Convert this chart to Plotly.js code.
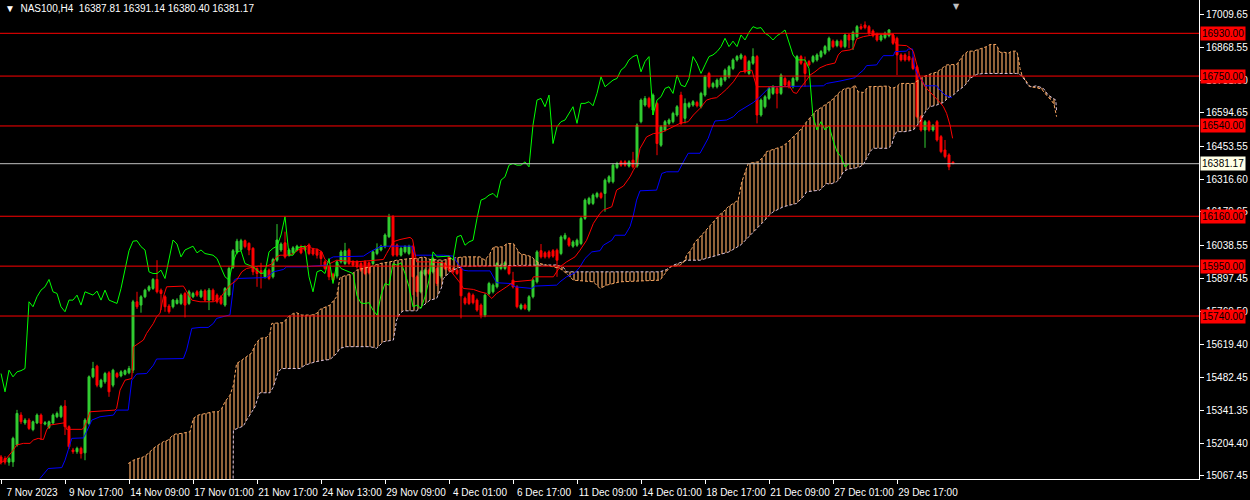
<!DOCTYPE html>
<html>
<head>
<meta charset="utf-8">
<script src="https://cdn.plot.ly/plotly-3.0.1.min.js"></script>
<style>
  html, body { margin: 0; padding: 0; background: #000; }
  #container { width: 1250px; height: 500px; }
</style>
</head>
<body>
<div id="container"></div>
<script>
// NAS100 H4 bars, index 0 = 7 Nov 2023 (one bar = 4 hours)
const openP = [
  15147,15140,15125,15126,15197,15323,15290,15302,15262,15290,
  15323,15285,15271,15290,15316,15316,15361,15274,15176,15169,
  15183,15164,15288,15484,15529,15442,15463,15501,15449,15498,
  15488,15495,15501,15512,15800,15786,15821,15849,15856,15894,
  15849,15821,15782,15779,15793,15793,15835,15793,15821,15842,
  15821,15846,15807,15849,15828,15821,15786,15828,15945,16008,
  16020,16057,16046,16025,15940,15931,15905,15933,15905,15975,
  16018,16048,15996,16006,16018,16032,16032,16039,16020,16018,
  16010,15968,15947,15916,15908,15968,15961,16018,15968,15968,
  15961,15968,15964,15961,16003,16018,16032,16074,16158,16039,
  15996,16010,16003,16032,15905,15842,15916,15933,15926,15940,
  15908,15961,15989,15940,15933,15940,15815,15835,15828,15807,
  15786,15744,15835,15842,15863,15940,15940,15947,15891,15863,
  15772,15786,15765,15821,15884,16015,16006,16010,16015,16017,
  16003,16066,16066,16034,16038,16045,16151,16214,16214,16242,
  16256,16256,16305,16305,16365,16389,16389,16371,16396,16371,
  16558,16628,16656,16607,16635,16459,16523,16551,16558,16586,
  16670,16572,16621,16628,16639,16621,16670,16761,16705,16705,
  16712,16733,16747,16782,16818,16825,16832,16761,16804,16832,
  16586,16621,16656,16677,16698,16677,16740,16726,16705,16733,
  16832,16804,16811,16811,16818,16832,16846,16860,16897,16878,
  16897,16874,16923,16902,16916,16958,16965,16958,16940,16926,
  16902,16912,16920,16923,16909,16839,16839,16832,16825,16789,
  16579,16523,16558,16523,16558,16495,16439,16418,16387.81
];
const highP = [
  15155,15150,15148,15232,15345,15335,15310,15310,15300,15330,
  15330,15298,15300,15330,15338,15365,15386,15280,15185,15190,
  15190,15310,15490,15547,15535,15476,15505,15508,15518,15505,
  15512,15515,15530,15808,15842,15828,15855,15870,15900,15975,
  15856,15828,15790,15812,15815,15835,15842,15850,15842,15849,
  15852,15853,15858,15856,15835,15828,15862,15948,16022,16065,
  16065,16062,16050,16030,15945,15964,15940,15940,15985,16127,
  16050,16095,16025,16034,16040,16040,16038,16046,16027,16025,
  16015,15975,15954,15922,15975,16018,16048,16025,15975,15975,
  15968,15975,15970,16015,16046,16040,16088,16170,16165,16045,
  16032,16038,16040,16040,15912,15933,15940,15940,15990,15947,
  15970,15968,15996,15947,15940,15947,15822,15842,15835,15814,
  15793,15835,15884,15877,15968,15961,15971,15954,15926,15870,
  15793,15793,15828,15898,16017,16043,16013,16017,16022,16024,
  16080,16090,16073,16059,16066,16158,16235,16242,16256,16263,
  16263,16319,16333,16382,16389,16396,16396,16396,16431,16551,
  16656,16666,16663,16677,16642,16544,16565,16572,16600,16628,
  16684,16656,16642,16649,16646,16684,16754,16768,16726,16740,
  16747,16782,16796,16825,16839,16846,16839,16818,16867,16839,
  16656,16670,16705,16712,16705,16761,16747,16733,16747,16839,
  16839,16832,16818,16839,16846,16860,16881,16916,16904,16904,
  16904,16930,16930,16941,16965,16970,16980,16965,16947,16933,
  16927,16937,16948,16930,16916,16846,16846,16855,16832,16796,
  16586,16565,16565,16548,16565,16502,16481,16425,16391.14
];
const lowP = [
  15115,15115,15110,15105,15190,15285,15282,15260,15255,15285,
  15218,15280,15265,15285,15310,15310,15239,15180,15160,15160,
  15140,15133,15280,15478,15440,15436,15455,15400,15440,15478,
  15482,15490,15495,15500,15770,15754,15815,15842,15850,15835,
  15765,15758,15750,15772,15788,15786,15734,15786,15815,15821,
  15815,15800,15765,15800,15793,15786,15779,15821,15938,16000,
  16012,16025,15996,15912,15863,15856,15898,15891,15898,15968,
  16010,15982,15990,16000,16012,16000,16012,15996,15994,15982,
  15954,15933,15891,15884,15898,15961,15954,15954,15947,15940,
  15926,15912,15915,15954,15996,16012,16025,16068,15990,15989,
  15990,16003,15996,15828,15821,15835,15908,15912,15919,15866,
  15898,15933,15926,15919,15912,15730,15786,15786,15789,15758,
  15730,15735,15828,15835,15856,15933,15933,15912,15856,15772,
  15765,15765,15758,15814,15877,15982,15982,15982,15985,15905,
  15996,16059,16031,16027,16031,16038,16144,16207,16207,16235,
  16232,16179,16298,16298,16358,16368,16368,16365,16361,16364,
  16551,16621,16614,16586,16417,16452,16516,16544,16551,16579,
  16544,16551,16614,16621,16618,16614,16663,16698,16698,16698,
  16705,16726,16740,16775,16811,16818,16761,16754,16797,16551,
  16579,16614,16649,16670,16614,16670,16705,16698,16698,16726,
  16797,16705,16790,16804,16811,16825,16839,16853,16867,16871,
  16867,16867,16867,16860,16909,16944,16947,16923,16913,16895,
  16895,16905,16913,16881,16754,16811,16811,16811,16775,16572,
  16516,16448,16516,16516,16474,16425,16404,16354,16380.40
];
const closeP = [
  15125,15125,15140,15225,15330,15295,15302,15267,15295,15323,
  15288,15291,15295,15323,15330,15358,15274,15190,15169,15183,
  15161,15302,15484,15519,15449,15470,15498,15421,15512,15484,
  15505,15510,15519,15800,15779,15821,15849,15863,15894,15842,
  15835,15779,15758,15807,15807,15828,15786,15842,15835,15828,
  15845,15807,15849,15807,15800,15793,15856,15940,16015,16055,
  16057,16032,16018,15926,15919,15919,15933,15898,15978,16060,
  16043,15989,16018,16027,16034,16006,16018,16003,16001,15996,
  15982,15940,15905,15891,15968,16010,16015,15961,15954,15947,
  15933,15919,15922,16010,16025,16034,16081,16158,15996,15996,
  16025,16032,16032,15905,15842,15926,15933,15919,15982,15877,
  15964,15940,15933,15926,15919,15825,15794,15793,15796,15765,
  15744,15828,15877,15870,15961,15954,15964,15919,15863,15779,
  15786,15772,15821,15891,16010,15989,15989,15989,15992,15975,
  16073,16080,16038,16052,16059,16151,16228,16235,16249,16256,
  16239,16312,16326,16375,16382,16375,16375,16389,16368,16544,
  16649,16656,16621,16670,16466,16537,16558,16565,16593,16621,
  16551,16635,16635,16642,16625,16677,16747,16705,16719,16733,
  16740,16775,16789,16818,16832,16839,16768,16811,16832,16586,
  16649,16663,16698,16705,16677,16754,16712,16705,16740,16832,
  16804,16761,16797,16832,16839,16853,16874,16909,16874,16897,
  16874,16923,16902,16934,16958,16951,16954,16930,16920,16902,
  16920,16930,16944,16888,16839,16818,16818,16818,16782,16579,
  16523,16558,16523,16541,16481,16432,16411,16368,16381.17
];

// Ichimoku lines (bar index, price)
const tenkanX = [-0.25,1,3.1,3.9,5.6,7.25,8.1,9.3,10.6,11.4,12.25,14.75,16,16.4,20.2,20.6,21.4,22.25,28.5,28.9,
  29.75,31,32.7,33.1,35.6,36.4,38.1,38.9,39.75,40.6,41.4,45.6,46.4,47.7,49.75,53.1,54.75,55.6,57.25,58.9,
  60.2,61.4,64.3,66.4,67.7,68.9,69.75,71.8,73.1,74.3,76,76.8,77.7,79.3,80.2,81,82.25,83.9,88.9,92.25,
  95.6,96.4,98.1,99.75,102.25,102.9,103.9,107.25,110.6,112.25,114.75,115.6,118.1,119.75,121.4,122.7,123.9,126.4,128.1,132.7,
  133.1,138.1,138.9,139.75,141.4,143.5,144.75,146.4,147.25,148.1,149.75,150.6,152.7,153.9,155.6,156.4,157.25,158.1,158.9,159.75,
  161.4,163.1,164.75,166.4,168.1,169.75,171.8,173.1,174.75,176.4,177.7,178.9,180.2,181.4,183.1,184.3,184.75,187.7,188.9,197.25,
  198.1,198.9,199.75,201.4,202.25,203.5,204.75,206.4,208.5,209.3,210.2,212.25,213.1,213.9,215.6,218.9,223.1,223.5,223.9,226.4,
  227.7,228.1,228.9,229.75,231,232.25,233.9,234.75,235.6,236.4,237.25,237.9];
const tenkanY = [15119,15133,15176,15197,15204,15204,15218,15225,15220,15260,15281,15288,15291,15263,15263,15267,15295,15337,15344,15351,
  15428,15470,15477,15610,15639,15667,15709,15737,15751,15821,15863,15866,15842,15807,15800,15800,15814,15835,15870,15891,
  15926,15940,15950,15950,15959,15989,15996,15996,16003,16018,16027,16039,16025,16020,16010,15978,15961,15975,15968,15973,
  15978,16003,16053,16062,16071,16062,15968,15968,15964,15933,15880,15856,15852,15842,15835,15814,15835,15863,15884,15891,
  15905,15905,15926,15947,15968,15989,16017,16059,16094,16130,16172,16186,16200,16270,16287,16305,16326,16354,16375,16445,
  16494,16508,16511,16523,16537,16551,16558,16586,16614,16649,16656,16659,16677,16695,16726,16754,16768,16775,16705,16705,
  16681,16677,16698,16733,16754,16768,16785,16797,16805,16839,16855,16860,16867,16906,16916,16926,16926,16895,16881,16878,
  16862,16853,16797,16747,16705,16684,16656,16639,16621,16593,16544,16488];

const kijunX = [9.75,11.8,15.2,16,17.7,20.6,21.4,22.7,24.75,28.1,28.9,31.8,32.7,33.9,36.4,38.1,38.9,45.6,46.4,47.7,
  49.75,51.8,53.1,53.9,57.25,57.7,58.3,58.9,61.4,64.75,66.4,68.1,70.6,71.4,76.4,77.7,81.4,82.25,83.1,90.6,
  92.25,94.75,96.4,102.7,103.5,110.6,113.1,113.9,115.6,116.8,122.25,123.1,123.9,127.25,128.5,132.7,133.5,138.9,139.75,141.4,
  143.5,144.75,146,147.7,149.75,150.6,152.7,153.5,156,157.25,158.1,158.9,159.75,163.9,165.2,166.4,169.3,170.6,171.8,174.75,
  175.6,176.8,177.7,178.5,181.4,183.1,184.3,186.4,188.1,189.75,191.4,192.25,205.6,206.4,209.75,212.25,213.5,214.3,215.6,216.4,
  218.9,219.75,220.6,223.1,223.5,226.4,226.8,227.9,228.1,228.5,229.3,230.2,231,233.9,234.75,236,237.7];
const kijunY = [15056,15098,15102,15133,15225,15227,15253,15302,15316,15323,15344,15344,15470,15496,15498,15533,15559,15561,15597,15688,
  15692,15692,15709,15730,15745,15800,15891,15898,15898,15901,15902,15926,15936,15947,15947,15950,15954,15982,15989,15992,
  16010,16032,16034,16034,15996,15996,15992,15968,15933,15930,15930,15905,15880,15877,15863,15856,15866,15870,15884,15905,
  15922,15947,15982,16010,16015,16038,16059,16080,16080,16116,16165,16228,16267,16270,16340,16347,16347,16389,16425,16425,
  16453,16488,16530,16561,16565,16579,16600,16621,16639,16663,16691,16705,16709,16719,16729,16737,16743,16757,16775,16794,
  16797,16818,16836,16836,16853,16855,16864,16864,16811,16782,16747,16733,16709,16709,16691,16670,16659];

const spanAX = [31.8,33.1,34.3,35.6,36.8,38.1,39.3,40.6,41.8,42.7,43.5,45.2,47.25,48.1,49.3,51.8,53.1,54.3,55.2,56,
  57.25,58.1,58.5,58.9,60.2,61.4,62.7,63.5,64.75,66.4,67.25,67.7,70.6,71.8,73.1,73.9,75.2,77.7,78.9,79.75,
  81.4,82.25,83.9,84.75,86.4,87.7,88.9,90.2,92.25,94.75,97.25,98.9,102.25,103.9,105.6,107.25,110.6,112.25,115.6,119.75,
  121,122.25,123.1,125.6,126.4,128.1,128.9,129.75,131.4,132.7,133.5,134.75,139.75,141.4,143.1,148.1,149.75,151.4,154.75,164.75,
  166,167.25,169.75,170.75,171.4,172.7,173.5,174.75,177.25,179.75,180.6,181.8,183.1,184.3,185.2,186,186.8,189.3,190.6,191.4,
  192.7,193.9,195.2,196.4,197.7,198.9,200.2,201.4,202.7,203.9,204.75,206.4,207.7,208.9,209.75,211,212.7,213.5,214.3,215.6,
  216.8,221.8,222.7,223.9,224.75,228.1,230.6,232.7,233.9,235.2,236.4,238.9,239.75,240.6,241.8,243.1,245.2,246.4,247.25,248.75,
  249.3,249.75,251,251.8,252.7,253.9,254.3,254.75,255.2,256.4,257.25,258.9,260.2,261,261.8,262.7,263.25,263.9];
const spanAY = [15119,15133,15140,15147,15161,15183,15197,15211,15218,15234,15243,15246,15253,15309,15323,15333,15337,15337,15351,15379,
  15407,15449,15505,15540,15554,15568,15585,15618,15646,15650,15667,15709,15712,15737,15751,15754,15744,15744,15751,15768,
  15779,15786,15821,15902,15912,15916,15933,15940,15947,15961,15968,15975,15982,15982,15989,15978,15975,15982,15989,15989,
  15975,16003,16031,16031,16045,16045,16024,16003,15996,15989,15975,15961,15940,15919,15891,15884,15856,15870,15884,15891,
  15919,15947,15954,15968,15996,16024,16052,16073,16120,16168,16179,16200,16214,16228,16305,16347,16382,16389,16410,16432,
  16441,16446,16453,16467,16488,16509,16530,16558,16586,16607,16614,16635,16649,16670,16684,16698,16701,16712,16684,16681,
  16705,16708,16698,16705,16719,16719,16747,16761,16766,16782,16797,16799,16818,16839,16855,16855,16867,16874,16883,16883,
  16867,16850,16850,16846,16855,16855,16832,16782,16757,16729,16705,16701,16695,16677,16663,16645,16631,16579];

const spanBX = [31.8,58,58.1,59.3,60.6,61.4,62.25,63.5,64.3,64.75,67.25,68.1,68.9,69.3,70.2,74.75,76,77.25,78.5,80.6,
  82.25,83.9,84.75,86.4,92.25,93.9,95.6,98.1,98.9,99.75,100.6,103.9,107.25,108.9,110.2,110.6,112.25,113.9,115.6,117.25,
  138.9,140.6,141.4,164.75,166.4,168.1,169.75,171.4,174.75,178,182,185,188,190.5,192.25,193.1,195.6,197.25,198.9,200.6,
  201.4,204.75,206.4,207.25,208.9,209.75,210.6,211.8,213.1,214.75,215.6,216.4,217.25,218.1,221.8,222.7,223.1,223.9,226,228.1,
  229.75,230.6,231.4,232.25,233.9,235.6,236.8,238.1,238.9,240.6,241.4,242.25,243.1,243.9,245.6,253.9,254.75,256,256.8,257.7,
  258.9,260.6,261.8,262.9,263.7,263.9];
const spanBY = [14950,14950,15260,15267,15277,15302,15323,15358,15400,15417,15417,15442,15484,15505,15519,15519,15533,15540,15547,15554,
  15557,15582,15604,15611,15611,15604,15632,15639,15723,15751,15762,15762,15807,15814,15863,15898,15926,15940,15950,15950,
  15955,15945,15926,15926,15936,15954,15964,15975,15975,15990,16010,16040,16090,16135,16168,16179,16200,16207,16214,16242,
  16263,16270,16298,16295,16305,16320,16347,16359,16361,16368,16378,16403,16432,16446,16446,16460,16488,16516,16516,16523,
  16558,16586,16607,16621,16628,16639,16659,16670,16684,16705,16719,16740,16747,16757,16761,16761,16757,16733,16709,16705,
  16709,16698,16670,16656,16649,16600];

// axis labels and horizontal levels
const timeLabels = ["7 Nov 2023","9 Nov 17:00","14 Nov 09:00","17 Nov 01:00","21 Nov 17:00","24 Nov 13:00",
  "29 Nov 09:00","4 Dec 01:00","6 Dec 17:00","11 Dec 09:00","14 Dec 01:00","18 Dec 17:00",
  "21 Dec 09:00","27 Dec 01:00","29 Dec 17:00"];
const timeTickBars = [0,16,32,48,64,80,96,112,128,144,160,176,192,208,224];
const priceTicks = [17009.65,16868.55,16731.60,16594.65,16453.55,16316.60,16179.65,16038.55,
  15897.45,15760.50,15619.40,15482.45,15341.35,15204.40,15067.45];
const levels = [16930, 16750, 16540, 16160, 15950, 15740];
const lastPrice = 16381.17;
const chikouShift = 26;

const FONT = "Liberation Sans, Arial, sans-serif";
const bars = openP.map((v, i) => i);

// lagging line is the close plotted 26 bars back
const chikouX = [];
const chikouY = [];
for (let i = chikouShift; i < closeP.length; i++) {
  chikouX.push(i - chikouShift);
  chikouY.push(closeP[i]);
}

const data = [
  {
    x: spanBX, y: spanBY, type: "scatter", mode: "lines",
    line: { color: "#D8BFD8", width: 1, dash: "3px,2px" }
  },
  {
    x: spanAX, y: spanAY, type: "scatter", mode: "lines",
    line: { color: "#F4A460", width: 1, dash: "3px,2px" },
    fill: "tonexty",
    fillcolor: "#F4A460",
    fillpattern: { shape: "|", size: 4, solidity: 0.3, fgopacity: 1, fgcolor: "#F4A460", bgcolor: "rgba(0,0,0,0)" }
  },
  {
    x: bars, open: openP, high: highP, low: lowP, close: closeP,
    type: "candlestick",
    increasing: { line: { color: "#32CD32", width: 1 }, fillcolor: "#32CD32" },
    decreasing: { line: { color: "#FF0000", width: 1 }, fillcolor: "#FF0000" },
    whiskerwidth: 0
  },
  {
    x: kijunX, y: kijunY, type: "scatter", mode: "lines",
    line: { color: "#0000FF", width: 1 }
  },
  {
    x: tenkanX, y: tenkanY, type: "scatter", mode: "lines",
    line: { color: "#FF0000", width: 1 }
  },
  {
    x: chikouX, y: chikouY, type: "scatter", mode: "lines",
    line: { color: "#00FF00", width: 1 }
  }
];

const shapes = levels.map(v => ({
  type: "line", xref: "paper", x0: 0, x1: 1, yref: "y", y0: v, y1: v,
  line: { color: "#FF0000", width: 1 }
}));
shapes.push({
  type: "line", xref: "paper", x0: 0, x1: 1, yref: "y", y0: lastPrice, y1: lastPrice,
  line: { color: "#C0C0C0", width: 1 }
});

const annotations = levels.map(v => ({
  xref: "paper", x: 1, xanchor: "left", xshift: 1,
  yref: "y", y: v, yanchor: "middle",
  text: v.toFixed(2), showarrow: false,
  bgcolor: "#FF0000", borderpad: 1,
  font: { family: FONT, size: 10, color: "#000" }
}));
annotations.push({
  xref: "paper", x: 1, xanchor: "left", xshift: 1,
  yref: "y", y: lastPrice, yanchor: "middle",
  text: lastPrice.toFixed(2), showarrow: false,
  bgcolor: "#FFFFE6", borderpad: 1,
  font: { family: FONT, size: 10, color: "#000" }
});
annotations.push({
  xref: "paper", yref: "paper", x: 0, y: 1, xanchor: "left", yanchor: "top",
  xshift: 3, yshift: -1, showarrow: false,
  text: "▼  NAS100,H4  " + [openP[238], highP[238], lowP[238], closeP[238]].map(v => v.toFixed(2)).join(" "),
  font: { family: FONT, size: 10, color: "#fff" }
});
annotations.push({
  xref: "paper", yref: "paper", x: 956 / 1199, y: 1, xanchor: "center", yanchor: "top",
  yshift: 0, showarrow: false, text: "▼",
  font: { family: "DejaVu Sans", size: 8, color: "#C0C0C0" }
});

const layout = {
  width: 1250, height: 500,
  paper_bgcolor: "#000", plot_bgcolor: "#000",
  margin: { l: 0, r: 51, t: 0, b: 21 },
  showlegend: false,
  hovermode: false,
  boxgap: 0.3,
  xaxis: {
    range: [-0.25, 299.5], showgrid: false, zeroline: false,
    showline: true, linecolor: "#fff", linewidth: 1,
    ticks: "outside", ticklen: 4, tickcolor: "#fff",
    tickvals: timeTickBars, ticktext: timeLabels, ticklabelshift: 31,
    tickfont: { family: FONT, size: 10, color: "#fff" },
    rangeslider: { visible: false }
  },
  yaxis: {
    side: "right", range: [15054, 17070.2], showgrid: false, zeroline: false,
    showline: true, linecolor: "#fff", linewidth: 1,
    ticks: "outside", ticklen: 4, tickcolor: "#fff",
    tickvals: priceTicks, ticktext: priceTicks.map(v => v.toFixed(2)),
    tickfont: { family: FONT, size: 10, color: "#fff" }
  },
  shapes: shapes,
  annotations: annotations
};

Plotly.newPlot("container", data, layout, { displayModeBar: false, staticPlot: true });
</script>
</body>
</html>
